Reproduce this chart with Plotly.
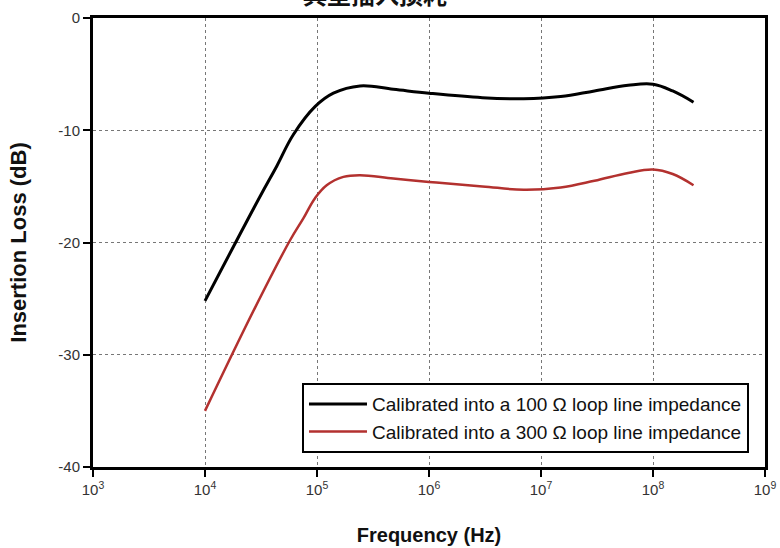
import plotly.graph_objects as go

# Data
freq_100 = [1e4, 3.1e4, 4.37e4, 6.14e4, 9.6e4, 1.4e5, 2.42e5, 4.8e5, 1e6, 3e6, 7e6,
            1.5e7, 3e7, 6e7, 1e8, 1.5e8, 2.3e8]
loss_100 = [-25.2, -15.9, -13.2, -10.4, -7.9, -6.7, -6.05, -6.35, -6.7, -7.1, -7.2,
            -7.0, -6.5, -6.0, -5.9, -6.5, -7.5]

freq_300 = [1e4, 2.8e4, 5.75e4, 7.55e4, 9.6e4, 1.22e5, 1.72e5, 2.42e5, 4.8e5, 1e6, 3e6, 7e6,
            1.5e7, 3e7, 6e7, 1e8, 1.5e8, 2.3e8]
loss_300 = [-35.0, -25.8, -19.8, -17.85, -16.05, -14.9, -14.15, -14.0, -14.3, -14.6, -15.0, -15.3,
            -15.1, -14.5, -13.8, -13.5, -13.9, -14.9]

series_names = ["Calibrated into a 100 \u03a9 loop line impedance",
                "Calibrated into a 300 \u03a9 loop line impedance"]

x_tick_vals = [1e3, 1e4, 1e5, 1e6, 1e7, 1e8, 1e9]
x_tick_text = ["10<sup>3</sup>", "10<sup>4</sup>", "10<sup>5</sup>", "10<sup>6</sup>",
               "10<sup>7</sup>", "10<sup>8</sup>", "10<sup>9</sup>"]
y_tick_vals = [0, -10, -20, -30, -40]
y_tick_text = ["0", "-10", "-20", "-30", "-40"]

title_text = "典型插入损耗"

fig = go.Figure()
fig.add_trace(go.Scatter(x=freq_100, y=loss_100, mode="lines", name=series_names[0],
                         line=dict(color="#000000", width=3, shape="spline", smoothing=1.1)))
fig.add_trace(go.Scatter(x=freq_300, y=loss_300, mode="lines", name=series_names[1],
                         line=dict(color="#b3312f", width=2.5, shape="spline", smoothing=1.1)))

axis_font = dict(family="Liberation Sans, Arial, sans-serif", size=15, color="#333333")

fig.update_layout(
    width=780, height=548,
    margin=dict(l=93, r=15, t=18, b=81),
    paper_bgcolor="white", plot_bgcolor="white",
    font=dict(family="Liberation Sans, Arial, sans-serif"),
    showlegend=True,
    legend=dict(x=0.311, y=0.187, xanchor="left", yanchor="top",
                bgcolor="white", bordercolor="black", borderwidth=2,
                font=dict(family="Liberation Sans, Arial, sans-serif", size=19, color="#111111"),
                tracegroupgap=0, itemwidth=58),
    xaxis=dict(type="log", range=[3, 9], tickvals=x_tick_vals, ticktext=x_tick_text,
               automargin=False,
               showline=True, linecolor="black", linewidth=3, mirror=True,
               ticks="outside", ticklen=7, tickwidth=2, tickcolor="black",
               showgrid=True, gridcolor="#777777", griddash="dot", gridwidth=1,
               tickfont=axis_font, zeroline=False,
               title=dict(text="<b>Frequency (Hz)</b>", standoff=31,
                          font=dict(family="Liberation Sans, Arial, sans-serif", size=20, color="#111111"))),
    yaxis=dict(range=[-40, 0], tickvals=y_tick_vals, ticktext=y_tick_text,
               automargin=False,
               showline=True, linecolor="black", linewidth=3, mirror=True,
               ticks="outside", ticklen=7, tickwidth=2, tickcolor="black",
               showgrid=True, gridcolor="#777777", griddash="dot", gridwidth=1,
               tickfont=axis_font, zeroline=False,
               title=dict(text="<b>Insertion Loss (dB)</b>", standoff=26,
                          font=dict(family="Liberation Sans, Arial, sans-serif", size=22, color="#111111"))),
)

fig.add_annotation(text="<b>" + title_text + "</b>", xref="paper", yref="paper",
                   x=0.42, y=1.0, yshift=5, xanchor="center", yanchor="bottom",
                   showarrow=False,
                   font=dict(family="Noto Sans CJK SC", size=24, color="#111111"))

fig.write_html("out.html", config={"displayModeBar": False},
               post_script="document.body.style.margin='0px';")
